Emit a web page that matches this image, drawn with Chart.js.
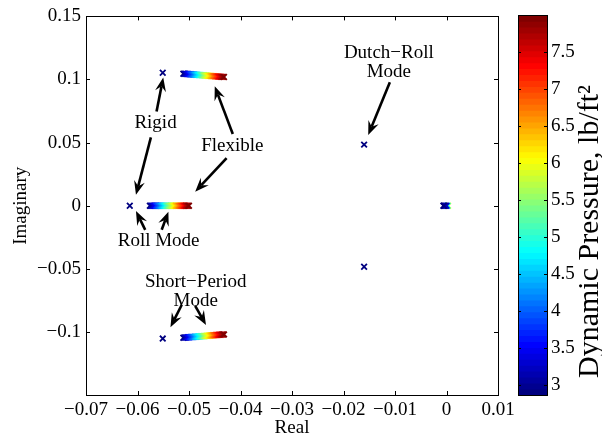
<!DOCTYPE html>
<html>
<head>
<meta charset="utf-8">
<script src="https://cdn.jsdelivr.net/npm/chart.js@4.4.1/dist/chart.umd.min.js"></script>
<style>
  html, body { margin: 0; padding: 0; background: #fff; }
  #wrap { position: relative; width: 602px; height: 440px; }
  #wrap canvas { position: absolute; left: 0; top: 0; }
</style>
</head>
<body>
<div id="wrap">
  <canvas id="rootLocus" width="602" height="440"></canvas>
  <canvas id="colorBar" width="602" height="440"></canvas>
</div>
<script>
// dynamic pressure of each flexible-model point, lb/ft^2
const qBar = [2.87, 3.00, 3.13, 3.25, 3.38, 3.51, 3.64, 3.77, 3.90, 4.03, 4.15,
              4.28, 4.41, 4.54, 4.67, 4.79, 4.92, 5.05, 5.18, 5.31, 5.44, 5.56,
              5.69, 5.82, 5.95, 6.08, 6.20, 6.33, 6.46, 6.59, 6.72, 6.84, 6.97,
              7.10, 7.23, 7.36, 7.49, 7.62, 7.74, 7.87, 8.00];

// short-period pole, flexible model (upper half plane; lower one is its conjugate)
const spFlexRe = [-0.0511, -0.0509, -0.0507, -0.0505, -0.0503, -0.0501, -0.0499,
                  -0.0497, -0.0495, -0.0493, -0.0491, -0.0489, -0.0487, -0.0485,
                  -0.0483, -0.0481, -0.0479, -0.0477, -0.0475, -0.0473, -0.0471,
                  -0.0470, -0.0468, -0.0466, -0.0464, -0.0462, -0.0460, -0.0458,
                  -0.0456, -0.0454, -0.0452, -0.0450, -0.0448, -0.0446, -0.0444,
                  -0.0442, -0.0440, -0.0438, -0.0436, -0.0434, -0.0432];
const spFlexIm = [0.1046, 0.1045, 0.1045, 0.1044, 0.1043, 0.1043, 0.1042, 0.1041,
                  0.1041, 0.1040, 0.1040, 0.1039, 0.1038, 0.1038, 0.1037, 0.1036,
                  0.1036, 0.1035, 0.1034, 0.1034, 0.1033, 0.1032, 0.1032, 0.1031,
                  0.1030, 0.1030, 0.1029, 0.1028, 0.1028, 0.1027, 0.1027, 0.1026,
                  0.1025, 0.1025, 0.1024, 0.1023, 0.1023, 0.1022, 0.1021, 0.1021,
                  0.1020];

// roll pole, flexible model (real axis)
const rollFlexRe = [-0.0576, -0.0574, -0.0572, -0.0570, -0.0568, -0.0566, -0.0564,
                    -0.0563, -0.0561, -0.0559, -0.0557, -0.0555, -0.0553, -0.0551,
                    -0.0549, -0.0547, -0.0545, -0.0544, -0.0542, -0.0540, -0.0538,
                    -0.0536, -0.0534, -0.0532, -0.0530, -0.0528, -0.0526, -0.0525,
                    -0.0523, -0.0521, -0.0519, -0.0517, -0.0515, -0.0513, -0.0511,
                    -0.0509, -0.0507, -0.0506, -0.0504, -0.0502, -0.0500];

// slow poles near the origin, flexible model
const spiralRe = [0.0003, 0.0002, -0.0006, -0.0004, -0.0002, 0.0000];
const spiralQ = [6.00, 4.80, 2.87, 2.90, 3.00, 3.20];

// rigid-body poles: short period (pair), roll, dutch roll (pair), spiral
const rigidRe = [-0.0551, -0.0551, -0.0615, -0.0160, -0.0160, -0.0005];
const rigidIm = [0.1053, -0.1053, 0, 0.0484, -0.0484, 0];

// axes
const xTicks = [-0.07, -0.06, -0.05, -0.04, -0.03, -0.02, -0.01, 0, 0.01];
const xTickLabels = ['\u22120.07', '\u22120.06', '\u22120.05', '\u22120.04', '\u22120.03',
                     '\u22120.02', '\u22120.01', '0', '0.01'];
const yTicks = [-0.1, -0.05, 0, 0.05, 0.1, 0.15];
const yTickLabels = ['\u22120.1', '\u22120.05', '0', '0.05', '0.1', '0.15'];

// colour bar
const cMin = 2.87;
const cMax = 8.0;
const cbTicks = [3, 3.5, 4, 4.5, 5, 5.5, 6, 6.5, 7, 7.5];
const cbTickLabels = ['3', '3.5', '4', '4.5', '5', '5.5', '6', '6.5', '7', '7.5'];

const font = { family: 'Liberation Serif', size: 19 };
const cbTitleSize = 30;

// matlab style jet colormap, 64 levels
function jet(t) {
    const c = v => Math.round(255 * Math.min(1, Math.max(0, v)));
    const r = c(Math.min(4 * t - 1.5, -4 * t + 4.5));
    const g = c(Math.min(4 * t - 0.5, -4 * t + 3.5));
    const b = c(Math.min(4 * t + 0.5, -4 * t + 2.5));
    return 'rgb(' + r + ',' + g + ',' + b + ')';
}
function qColor(q) {
    const idx = Math.min(63, Math.max(0, Math.floor((q - cMin) / (cMax - cMin) * 64)));
    return jet(idx / 63);
}

const marker = {
    pointStyle: 'crossRot',
    pointRadius: 4,
    pointBorderWidth: 1.8,
    showLine: false
};

function flexSet(re, im, q) {
    return Object.assign({
        data: re.map((x, i) => ({ x: x, y: im[i], q: q[i] })),
        pointBorderColor: ctx => qColor(ctx.raw.q),
        pointBackgroundColor: ctx => qColor(ctx.raw.q)
    }, marker);
}

const datasets = [
    Object.assign({
        data: rigidRe.map((x, i) => ({ x: x, y: rigidIm[i] })),
        pointBorderColor: jet(0),
        pointBackgroundColor: jet(0)
    }, marker),
    flexSet(spFlexRe, spFlexIm, qBar),
    flexSet(spFlexRe, spFlexIm.map(v => -v), qBar),
    flexSet(rollFlexRe, rollFlexRe.map(() => 0), qBar),
    flexSet(spiralRe, spiralRe.map(() => 0), spiralQ)
];

// text labels and arrows, in data coordinates
const notes = [
    { text: ['Rigid'], x: -0.0565, y: 0.0659 },
    { text: ['Flexible'], x: -0.0416, y: 0.0471 },
    { text: ['Roll Mode'], x: -0.0559, y: -0.0283 },
    { text: ['Short\u2212Period', 'Mode'], x: -0.0487, y: -0.0679 },
    { text: ['Dutch\u2212Roll', 'Mode'], x: -0.0112, y: 0.1134 }
];
const arrows = [
    { from: [-0.0563, 0.0746], to: [-0.0550, 0.1016] },
    { from: [-0.0574, 0.0542], to: [-0.0603, 0.0086] },
    { from: [-0.0415, 0.0568], to: [-0.0450, 0.0947] },
    { from: [-0.0427, 0.0377], to: [-0.0488, 0.0110] },
    { from: [-0.0585, -0.0191], to: [-0.0603, -0.0042] },
    { from: [-0.0553, -0.0191], to: [-0.0540, -0.0047] },
    { from: [-0.0514, -0.0785], to: [-0.0536, -0.0963] },
    { from: [-0.0488, -0.0793], to: [-0.0467, -0.0945] },
    { from: [-0.0110, 0.0979], to: [-0.0152, 0.0560] }
];

const tickLen = 4;

// box round the plot with inward tick marks on all four sides
const axesBox = {
    id: 'axesBox',
    afterDraw(chart) {
        const { ctx, chartArea: a, scales } = chart;
        ctx.save();
        ctx.strokeStyle = '#000';
        ctx.lineWidth = 1;
        ctx.beginPath();
        xTicks.forEach(v => {
            const px = Math.round(scales.x.getPixelForValue(v)) + 0.5;
            ctx.moveTo(px, a.bottom); ctx.lineTo(px, a.bottom - tickLen);
            ctx.moveTo(px, a.top); ctx.lineTo(px, a.top + tickLen);
        });
        yTicks.forEach(v => {
            const py = Math.round(scales.y.getPixelForValue(v)) + 0.5;
            ctx.moveTo(a.left, py); ctx.lineTo(a.left + tickLen, py);
            ctx.moveTo(a.right, py); ctx.lineTo(a.right - tickLen, py);
        });
        ctx.stroke();
        ctx.strokeRect(Math.round(a.left) + 0.5, Math.round(a.top) + 0.5,
                       Math.round(a.right - a.left), Math.round(a.bottom - a.top));
        ctx.restore();
    }
};

// thick shaft with a swept-back filled head
function drawArrow(ctx, x0, y0, x1, y1) {
    const ang = Math.atan2(y1 - y0, x1 - x0);
    const ux = Math.cos(ang), uy = Math.sin(ang);
    const len = 14, half = 5.5, notch = 9;
    ctx.beginPath();
    ctx.moveTo(x0, y0);
    ctx.lineTo(x1 - ux * notch, y1 - uy * notch);
    ctx.stroke();
    ctx.beginPath();
    ctx.moveTo(x1, y1);
    ctx.lineTo(x1 - ux * len - uy * half, y1 - uy * len + ux * half);
    ctx.lineTo(x1 - ux * notch, y1 - uy * notch);
    ctx.lineTo(x1 - ux * len + uy * half, y1 - uy * len - ux * half);
    ctx.closePath();
    ctx.fill();
}

const annotations = {
    id: 'annotations',
    afterDatasetsDraw(chart) {
        const { ctx, scales: { x, y } } = chart;
        ctx.save();
        ctx.fillStyle = '#000';
        ctx.strokeStyle = '#000';
        ctx.lineWidth = 2.6;
        ctx.lineCap = 'butt';
        arrows.forEach(a => {
            drawArrow(ctx, x.getPixelForValue(a.from[0]), y.getPixelForValue(a.from[1]),
                      x.getPixelForValue(a.to[0]), y.getPixelForValue(a.to[1]));
        });
        ctx.font = font.size + 'px ' + font.family;
        ctx.textAlign = 'center';
        ctx.textBaseline = 'middle';
        const lh = 19.5;
        notes.forEach(n => {
            const cx = x.getPixelForValue(n.x);
            const cy = y.getPixelForValue(n.y) - (n.text.length - 1) * lh / 2;
            n.text.forEach((t, i) => ctx.fillText(t, cx, cy + i * lh));
        });
        ctx.restore();
    }
};

new Chart(document.getElementById('rootLocus'), {
    type: 'scatter',
    data: { datasets: datasets },
    options: {
        responsive: false,
        animation: false,
        events: [],
        layout: { padding: { left: 0, right: 104, top: 13, bottom: 0 } },
        plugins: { legend: { display: false }, tooltip: { enabled: false } },
        scales: {
            x: {
                type: 'linear',
                min: -0.07,
                max: 0.01,
                afterBuildTicks: s => { s.ticks = xTicks.map(v => ({ value: v })); },
                afterFit: s => { s.height = 45; },
                ticks: { callback: (v, i) => xTickLabels[i], font: font, color: '#000',
                         padding: 4, maxRotation: 0, autoSkip: false },
                grid: { display: false, drawTicks: false },
                border: { display: false },
                title: { display: true, text: 'Real', font: font, color: '#000',
                         padding: { top: 0, bottom: 1 } }
            },
            y: {
                type: 'linear',
                min: -0.15,
                max: 0.15,
                afterBuildTicks: s => { s.ticks = yTicks.map(v => ({ value: v })); },
                afterFit: s => { s.width = 86; },
                ticks: { callback: (v, i) => yTickLabels[i], font: font, color: '#000',
                         padding: 5, autoSkip: false },
                grid: { display: false, drawTicks: false },
                border: { display: false },
                title: { display: true, text: 'Imaginary', font: font, color: '#000',
                         padding: { top: 10, bottom: 0 } }
            }
        }
    },
    plugins: [axesBox, annotations]
});

// colour bar: one floating bar per colormap level, each reaching to the top
// and painted over the one below it
const levels = [];
for (let i = 0; i < 64; i++) {
    levels.push({ lo: cMin + (cMax - cMin) * i / 64, color: jet(i / 63) });
}

const cbFrame = {
    id: 'cbFrame',
    afterDraw(chart) {
        const { ctx, chartArea: a, scales } = chart;
        ctx.save();
        ctx.strokeStyle = '#000';
        ctx.lineWidth = 1;
        ctx.beginPath();
        cbTicks.forEach(v => {
            const py = Math.round(scales.y.getPixelForValue(v)) + 0.5;
            ctx.moveTo(a.left, py); ctx.lineTo(a.left + 3, py);
            ctx.moveTo(a.right, py); ctx.lineTo(a.right - 3, py);
        });
        ctx.stroke();
        ctx.strokeRect(Math.round(a.left) + 0.5, Math.round(a.top) + 0.5,
                       Math.round(a.right - a.left), Math.round(a.bottom - a.top));
        // axis label, reading upwards
        ctx.translate(598, scales.y.getPixelForValue(5.08));
        ctx.rotate(-Math.PI / 2);
        ctx.fillStyle = '#000';
        ctx.font = cbTitleSize + 'px ' + font.family;
        ctx.textAlign = 'center';
        ctx.textBaseline = 'alphabetic';
        ctx.fillText('Dynamic Pressure, lb/ft\u00b2', 0, 0);
        ctx.restore();
    }
};

new Chart(document.getElementById('colorBar'), {
    type: 'bar',
    data: {
        labels: [''],
        datasets: levels.map((lv, i) => ({
            data: [[lv.lo, cMax]],
            backgroundColor: lv.color,
            borderWidth: 0,
            barPercentage: 1,
            categoryPercentage: 1,
            grouped: false,
            order: 64 - i
        }))
    },
    options: {
        responsive: false,
        animation: false,
        events: [],
        layout: { padding: { left: 518, right: 0, top: 13, bottom: 45 } },
        plugins: { legend: { display: false }, tooltip: { enabled: false } },
        scales: {
            x: { display: false },
            y: {
                position: 'right',
                min: cMin,
                max: cMax,
                afterBuildTicks: s => { s.ticks = cbTicks.map(v => ({ value: v })); },
                afterFit: s => { s.width = 55; },
                ticks: { callback: (v, i) => cbTickLabels[i], font: font, color: '#000',
                         padding: 4, autoSkip: false },
                grid: { display: false, drawTicks: false },
                border: { display: false }
            }
        }
    },
    plugins: [cbFrame]
});
</script>
</body>
</html>
